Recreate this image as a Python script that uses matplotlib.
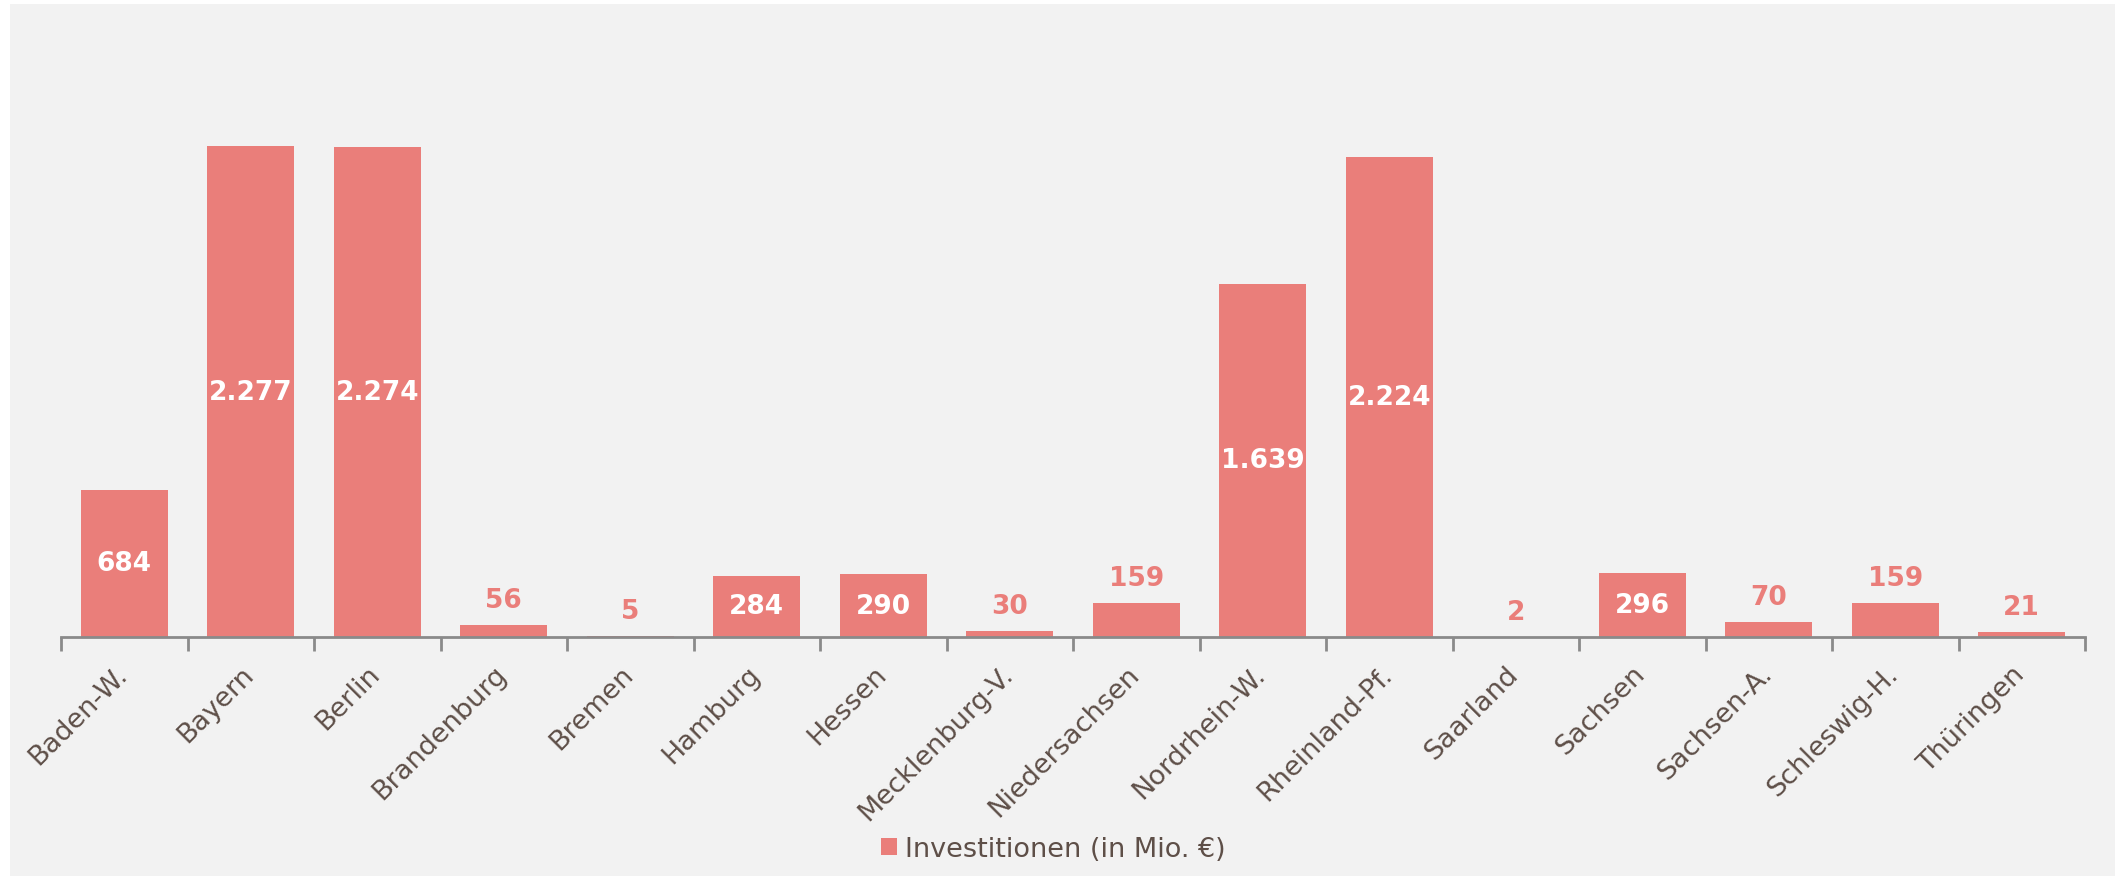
import matplotlib
matplotlib.use("Agg")
import matplotlib.pyplot as plt
from matplotlib.patches import Rectangle, Patch
from matplotlib.transforms import ScaledTranslation
import numpy as np

categories = ["Baden-W.", "Bayern", "Berlin", "Brandenburg", "Bremen", "Hamburg",
              "Hessen", "Mecklenburg-V.", "Niedersachsen", "Nordrhein-W.",
              "Rheinland-Pf.", "Saarland", "Sachsen", "Sachsen-A.",
              "Schleswig-H.", "Thüringen"]
values = [684, 2277, 2274, 56, 5, 284, 290, 30, 159, 1639, 2224, 2, 296, 70, 159, 21]
series_name = "Investitionen (in Mio. €)"

BAR = "#ea7e7a"
TXT = "#5e4f48"
BG = "#f2f2f2"
AX = "#8a8a8a"

W, H = 2123, 879
fig = plt.figure(figsize=(W / 100, H / 100), dpi=100, facecolor="white")
fig.patches.append(Rectangle((10 / W, 1 - 877 / H), (2115 - 10) / W, (877 - 5) / H,
                             transform=fig.transFigure, facecolor=BG, edgecolor="none", zorder=-10))

left, right = 61 / W, 2085 / W
bottom = 1 - 638 / H
ymax = 2700
px_per_unit = (638 - 147) / 2277
top_px = 638 - ymax * px_per_unit
ax = fig.add_axes([left, bottom, right - left, (638 - top_px) / H])
ax.set_facecolor("none")
ax.set_zorder(5)

x = np.arange(len(categories))
ax.bar(x, values, width=0.685, color=BAR, zorder=2)
ax.set_xlim(-0.5, len(categories) - 0.5)
ax.set_ylim(0, ymax)

for s in ["top", "right", "left"]:
    ax.spines[s].set_visible(False)
ax.spines["bottom"].set_color(AX)
ax.spines["bottom"].set_linewidth(2)
ax.set_yticks([])

ax.set_xticks(np.arange(len(categories) + 1) - 0.5)
ax.set_xticklabels([])
ax.tick_params(axis="x", which="major", length=10, width=2, color=AX, direction="out")
ax.set_xticks(x, minor=True)
ax.set_xticklabels(categories, minor=True, rotation=45, ha="right", va="baseline",
                   rotation_mode="anchor", fontsize=19.5, color=TXT)
ax.tick_params(axis="x", which="minor", length=0, pad=27)
shift = ScaledTranslation(4 / 100, 0, fig.dpi_scale_trans)
for lab in ax.get_xticklabels(minor=True):
    lab.set_transform(lab.get_transform() + shift)

def fmt(v):
    return f"{v:,}".replace(",", ".")

for xi, v in zip(x, values):
    if v >= 250:
        ax.text(xi, v / 2, fmt(v), ha="center", va="center", color="white",
                fontsize=19, fontweight="bold", zorder=3)
    else:
        ax.annotate(fmt(v), (xi, v), xytext=(0, 25), textcoords="offset pixels",
                    ha="center", va="center", color=BAR, fontsize=19,
                    fontweight="bold", zorder=3)

handle = Patch(facecolor=BAR, edgecolor="none")
fig.legend([handle], [series_name], loc="center", bbox_to_anchor=(0.496, 1 - 850 / H),
           frameon=False, fontsize=19.5, labelcolor=TXT, handlelength=0.6,
           handleheight=0.6, handletextpad=0.3)

fig.savefig("out.png", dpi=100, facecolor="white")
